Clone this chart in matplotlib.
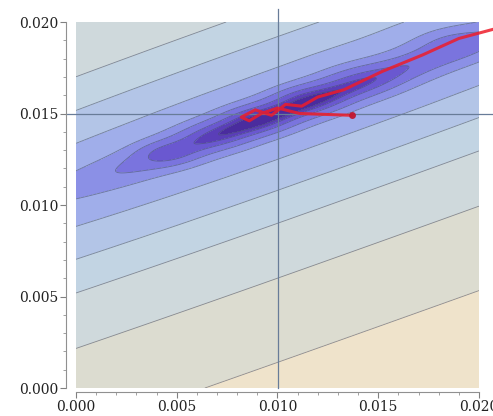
import numpy as np
import matplotlib.pyplot as plt
from matplotlib.ticker import MultipleLocator, FormatStrFormatter

# ridge of the density: peak and slope of the long axis
peak_x, peak_y = 0.0100, 0.0150
ridge_slope = 0.39
stretch_left, stretch_right = 0.105, 0.082

# contour radii (vertical offset from the ridge), outermost first
radii = [0.0136, 0.0090, 0.0060, 0.0042, 0.0025, 0.0013,
         0.00084, 0.00050, 0.00030, 0.00018]
band_colors = ['#efe3cb', '#dcdcd0', '#cfd9dc', '#c2d4e3', '#b3c5e7',
               '#a0aeea', '#8b90e6', '#7a74de', '#6a58d0', '#5a3eb8', '#4a2c9e']

# darker patches inside the ridge
blob_x = [0.0045, 0.0068, 0.0089, 0.0114, 0.0140, 0.0185]
blob_y = [0.0128, 0.0138, 0.0147, 0.0158, 0.0169, 0.0190]
blob_depth = [0.40, 0.35, 0.50, 0.50, 0.30, 0.30]
blob_size = [0.0005, 0.0006, 0.0006, 0.0006, 0.0007, 0.0007]

# cross hair
cross_x, cross_y = 0.010, 0.015

# red chain
path_x = [0.0137, 0.0111, 0.0100, 0.0092, 0.0086, 0.0082, 0.0089, 0.0097,
          0.0104, 0.0112, 0.0120, 0.0133, 0.0152, 0.0172, 0.0190, 0.0207]
path_y = [0.0149, 0.0150, 0.0153, 0.0150, 0.0146, 0.0148, 0.0152, 0.0149,
          0.0155, 0.0154, 0.0159, 0.0163, 0.0173, 0.0182, 0.0191, 0.0196]

xs = np.linspace(0, 0.02, 400)
X, Y = np.meshgrid(xs, xs)
U = X - peak_x
V = Y - (peak_y + ridge_slope * U)
K = np.where(U < 0, stretch_left, stretch_right)
D = np.sqrt(V**2 + (K * U)**2)
shade = np.zeros_like(D)
for bx, by, bd, bs in zip(blob_x, blob_y, blob_depth, blob_size):
    shade += bd * np.exp(-(((X - bx) / (2.2 * bs))**2 + ((Y - by) / bs)**2) / 2)
D = D * (1 - np.clip(shade, 0, 0.8))

fig = plt.figure(figsize=(4.93, 4.16), dpi=100)
ax = fig.add_axes([76/493, 28/416, 403/493, 366/416])

levels = [0] + radii[::-1] + [1]
ax.contourf(X, Y, D, levels=levels, colors=band_colors[::-1])
ax.contour(X, Y, D, levels=radii[::-1], colors='#485068', linewidths=0.6, alpha=0.6)

ax.plot([cross_x, cross_x], [0, 0.0207], color='#687c98', lw=0.9, clip_on=False)
ax.plot([-0.0005, 0.0207], [cross_y, cross_y], color='#687c98', lw=0.9, clip_on=False)

ax.plot(path_x, path_y, color='#ee1c2a', lw=2.2, alpha=0.85, clip_on=False,
        solid_joinstyle='round')
ax.plot(path_x[0], path_y[0], 'o', color='#c01830', ms=4, alpha=0.9)

ax.set_xlim(0, 0.02)
ax.set_ylim(0, 0.02)
for s in ['top', 'right']:
    ax.spines[s].set_visible(False)
ax.spines['left'].set_position(('outward', 7))
ax.spines['bottom'].set_position(('outward', 3))
for s in ['left', 'bottom']:
    ax.spines[s].set_color('#909090')
    ax.spines[s].set_linewidth(0.8)

ax.xaxis.set_major_locator(MultipleLocator(0.005))
ax.yaxis.set_major_locator(MultipleLocator(0.005))
ax.xaxis.set_minor_locator(MultipleLocator(0.001))
ax.yaxis.set_minor_locator(MultipleLocator(0.001))
ax.xaxis.set_major_formatter(FormatStrFormatter('%.3f'))
ax.yaxis.set_major_formatter(FormatStrFormatter('%.3f'))
ax.tick_params(which='major', direction='out', length=4, width=0.8, color='#808080',
               labelsize=10, labelcolor='#222222', pad=1.5)
ax.tick_params(which='minor', direction='out', length=2, width=0.6, color='#909090')
for lab in ax.get_xticklabels() + ax.get_yticklabels():
    lab.set_family('DejaVu Serif')

fig.savefig('out.png', dpi=100, facecolor='white')
